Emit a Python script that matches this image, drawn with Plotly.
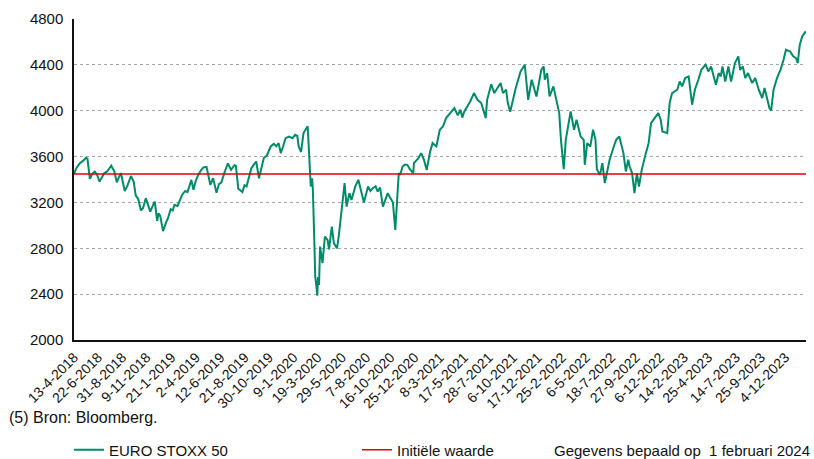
import plotly.graph_objects as go

# ---- data ----
dates = [
    "2018-04-13","2018-04-20","2018-04-30","2018-05-08","2018-05-18","2018-05-22","2018-05-29","2018-06-05",
    "2018-06-12","2018-06-19","2018-06-26","2018-07-03","2018-07-10","2018-07-18","2018-07-30","2018-08-08",
    "2018-08-15","2018-08-21","2018-08-27","2018-09-07","2018-09-14","2018-09-25","2018-10-03","2018-10-09",
    "2018-10-16","2018-10-24","2018-10-30","2018-11-07","2018-11-14","2018-11-20","2018-11-27","2018-12-03",
    "2018-12-10","2018-12-14","2018-12-19","2018-12-27","2019-01-04","2019-01-10","2019-01-18","2019-01-24",
    "2019-01-29","2019-02-07","2019-02-14","2019-02-21","2019-03-01","2019-03-08","2019-03-19","2019-03-25",
    "2019-04-01","2019-04-08","2019-04-16","2019-04-23","2019-05-02","2019-05-06","2019-05-13","2019-05-21",
    "2019-05-31","2019-06-07","2019-06-14","2019-06-24","2019-07-03","2019-07-12","2019-07-22","2019-07-26",
    "2019-08-02","2019-08-14","2019-08-20","2019-08-26","2019-09-03","2019-09-09","2019-09-16","2019-09-23",
    "2019-10-01","2019-10-07","2019-10-15","2019-10-24","2019-11-04","2019-11-13","2019-11-20","2019-11-27",
    "2019-12-03","2019-12-10","2019-12-17","2019-12-27","2020-01-06","2020-01-14","2020-01-20","2020-01-24",
    "2020-01-31","2020-02-07","2020-02-13","2020-02-19","2020-02-24","2020-02-27","2020-02-28","2020-03-03",
    "2020-03-05","2020-03-09","2020-03-12","2020-03-16","2020-03-18","2020-03-20","2020-03-23","2020-03-26",
    "2020-04-02","2020-04-09","2020-04-17","2020-04-21","2020-04-29","2020-05-05","2020-05-14","2020-05-19",
    "2020-05-26","2020-06-05","2020-06-11","2020-06-19","2020-06-25","2020-07-06","2020-07-15","2020-07-24",
    "2020-07-31","2020-08-12","2020-08-19","2020-08-26","2020-09-03","2020-09-09","2020-09-16","2020-09-24",
    "2020-10-05","2020-10-08","2020-10-19","2020-10-23","2020-10-30","2020-11-04","2020-11-09","2020-11-13",
    "2020-11-20","2020-11-27","2020-12-04","2020-12-11","2020-12-21","2020-12-23","2021-01-05","2021-01-13",
    "2021-01-21","2021-01-29","2021-02-08","2021-02-15","2021-02-26","2021-03-08","2021-03-17","2021-03-26",
    "2021-04-09","2021-04-19","2021-04-29","2021-05-07","2021-05-12","2021-05-18","2021-06-04","2021-06-15",
    "2021-06-25","2021-07-06","2021-07-19","2021-07-23","2021-08-04","2021-08-13","2021-08-31","2021-09-07",
    "2021-09-16","2021-09-21","2021-09-28","2021-10-05","2021-10-14","2021-10-28","2021-11-09","2021-11-19",
    "2021-11-29","2021-12-13","2021-12-27","2022-01-03","2022-01-06","2022-01-13","2022-01-20","2022-01-31",
    "2022-02-08","2022-02-17","2022-02-22","2022-03-02","2022-03-08","2022-03-17","2022-03-22","2022-04-01",
    "2022-04-08","2022-04-20","2022-04-29","2022-05-02","2022-05-09","2022-05-18","2022-05-26","2022-06-02",
    "2022-06-06","2022-06-15","2022-06-22","2022-06-29","2022-07-05","2022-07-13","2022-07-25","2022-08-01",
    "2022-08-10","2022-08-22","2022-08-29","2022-09-05","2022-09-09","2022-09-16","2022-09-23","2022-09-30",
    "2022-10-06","2022-10-14","2022-10-26","2022-11-03","2022-11-10","2022-11-24","2022-12-01","2022-12-08",
    "2022-12-13","2022-12-27","2023-01-03","2023-01-10","2023-01-25","2023-02-01","2023-02-08","2023-02-17",
    "2023-02-27","2023-03-09","2023-03-17","2023-03-27","2023-04-05","2023-04-17","2023-04-25","2023-05-03",
    "2023-05-12","2023-05-17","2023-05-25","2023-05-31","2023-06-05","2023-06-13","2023-06-22","2023-06-30",
    "2023-07-11","2023-07-21","2023-07-26","2023-08-03","2023-08-10","2023-08-18","2023-08-30","2023-09-08",
    "2023-09-18","2023-09-28","2023-10-05","2023-10-12","2023-10-19","2023-10-24","2023-10-31","2023-11-10",
    "2023-11-20","2023-11-29","2023-12-06","2023-12-18","2023-12-27","2024-01-04","2024-01-09","2024-01-15",
    "2024-01-22","2024-02-01",
]
stoxx_values = [
    3449,3500,3543,3560,3590,3580,3405,3450,
    3470,3440,3382,3420,3456,3470,3520,3470,
    3375,3420,3456,3300,3340,3430,3380,3260,
    3230,3130,3150,3237,3180,3120,3170,3208,
    3040,3106,3080,2950,3020,3060,3140,3130,
    3180,3170,3220,3270,3300,3290,3397,3310,
    3390,3440,3480,3505,3510,3440,3353,3412,
    3285,3360,3375,3470,3540,3484,3525,3520,
    3320,3290,3350,3340,3420,3499,3530,3557,
    3410,3484,3587,3610,3688,3711,3690,3717,
    3630,3690,3760,3775,3760,3790,3780,3688,
    3640,3805,3840,3865,3580,3456,3339,3410,
    3320,2902,2553,2450,2386,2550,2480,2815,
    2670,2902,2870,2790,2990,2845,2800,2902,
    3077,3368,3164,3281,3222,3340,3397,3281,
    3200,3339,3300,3324,3340,3295,3330,3164,
    3251,3281,3222,3200,2961,3200,3456,3440,
    3513,3530,3528,3490,3456,3543,3587,3630,
    3572,3484,3644,3717,3688,3834,3862,3936,
    3993,4023,3960,4008,3940,3993,4081,4154,
    4095,4067,3936,4095,4230,4154,4241,4154,
    4183,4067,3991,4095,4198,4343,4401,4095,
    4270,4124,4357,4386,4270,4328,4124,4212,
    4095,3979,3746,3490,3746,3921,3993,3834,
    3921,3775,3746,3528,3717,3688,3834,3746,
    3490,3440,3543,3368,3456,3572,3688,3746,
    3775,3630,3470,3572,3513,3456,3281,3456,
    3339,3484,3630,3717,3892,3950,3979,3921,
    3819,3804,4067,4154,4183,4255,4212,4285,
    4299,4052,4183,4270,4357,4401,4343,4386,
    4270,4226,4328,4299,4386,4255,4386,4255,
    4416,4474,4357,4386,4285,4328,4241,4285,
    4183,4110,4198,4095,4023,4000,4183,4285,
    4357,4444,4532,4517,4474,4459,4416,4576,
    4648,4692,
]
initial_value = stoxx_values[0]

tick_dates = [
    "2018-04-13","2018-06-22","2018-08-31","2018-11-09","2019-01-21","2019-04-02","2019-06-12","2019-08-21",
    "2019-10-30","2020-01-09","2020-03-19","2020-05-29","2020-08-07","2020-10-16","2020-12-25","2021-03-08",
    "2021-05-17","2021-07-28","2021-10-06","2021-12-17","2022-02-25","2022-05-06","2022-07-18","2022-09-27",
    "2022-12-06","2023-02-14","2023-04-25","2023-07-14","2023-09-25","2023-12-04",
]
tick_labels = [
    "13-4-2018","22-6-2018","31-8-2018","9-11-2018","21-1-2019","2-4-2019","12-6-2019","21-8-2019",
    "30-10-2019","9-1-2020","19-3-2020","29-5-2020","7-8-2020","16-10-2020","25-12-2020","8-3-2021",
    "17-5-2021","28-7-2021","6-10-2021","17-12-2021","25-2-2022","6-5-2022","18-7-2022","27-9-2022",
    "6-12-2022","14-2-2023","25-4-2023","14-7-2023","25-9-2023","4-12-2023",
]
y_ticks = [2000, 2400, 2800, 3200, 3600, 4000, 4400, 4800]

FONT = "Liberation Sans, Arial, sans-serif"
GREEN = "#008c69"
RED = "#e3000f"
TXT = "#111"

fig = go.Figure()
fig.add_trace(go.Scatter(
    x=dates, y=stoxx_values, mode="lines", name="EURO STOXX 50",
    line=dict(color=GREEN, width=2),
))
fig.add_trace(go.Scatter(
    x=[dates[0], "2024-02-02"], y=[initial_value, initial_value], mode="lines",
    name="Initiële waarde", line=dict(color=RED, width=1.5),
))

fig.update_layout(
    width=814, height=459,
    margin=dict(l=74, r=8, t=19, b=119, autoexpand=False),
    paper_bgcolor="white", plot_bgcolor="white",
    font=dict(family=FONT, color=TXT, size=15),
    showlegend=True,
    legend=dict(
        orientation="h", xref="container", yref="container",
        x=69 / 814, xanchor="left", y=1 - 450 / 459, yanchor="middle",
        entrywidth=243, entrywidthmode="pixels",
        font=dict(family=FONT, size=15, color=TXT),
        bgcolor="rgba(0,0,0,0)", itemwidth=30,
    ),
    annotations=[
        dict(text="(5) Bron: Bloomberg.", xref="paper", yref="paper",
             x=-0.0915, y=-0.24, xanchor="left", yanchor="middle", showarrow=False,
             font=dict(family=FONT, size=16, color=TXT)),
        dict(text="Gegevens bepaald op\u00a0 1 februari 2024", xref="paper", yref="paper",
             x=(552 - 74) / 732, y=-0.343, xanchor="left", yanchor="middle", showarrow=False,
             font=dict(family=FONT, size=15, color=TXT)),
    ],
)
fig.update_xaxes(
    type="date", range=["2018-04-13", "2024-02-02"], automargin=False,
    tickmode="array", tickvals=tick_dates, ticktext=tick_labels,
    tickangle=-45, tickfont=dict(family=FONT, size=14, color=TXT),
    showgrid=False, zeroline=False, ticklabelstandoff=2,
    showline=True, linecolor="#111", linewidth=1.5, ticks="",
)
fig.update_yaxes(
    range=[2000, 4800], tickmode="array", tickvals=y_ticks, automargin=False,
    tickfont=dict(family=FONT, size=15, color=TXT),
    showgrid=True, gridcolor="#a6a6a6", griddash="dot", gridwidth=1,
    zeroline=False, showline=True, linecolor="#111", linewidth=1.5,
    ticks="", ticklabelstandoff=6,
)

fig.write_html(
    "out.html",
    config={"displayModeBar": False},
    post_script="document.body.style.margin='0';document.body.style.overflow='hidden';",
)
